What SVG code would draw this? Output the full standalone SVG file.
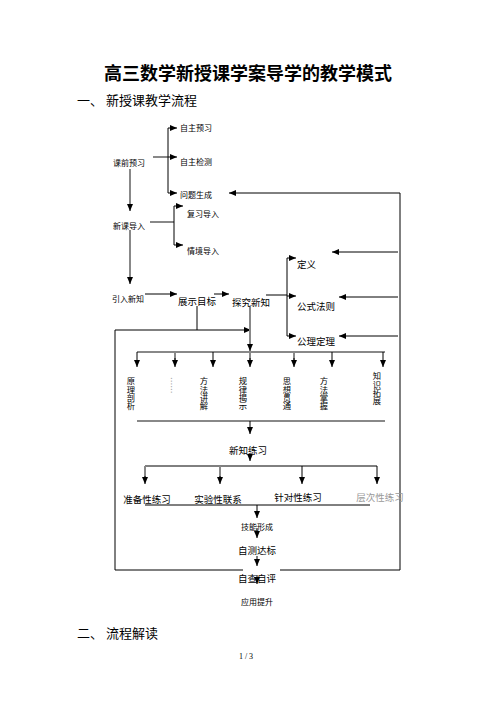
<svg xmlns="http://www.w3.org/2000/svg" width="496" height="702" viewBox="0 0 496 702">
<style>
text{font-family:"Noto Sans CJK SC","Noto Sans",sans-serif;fill:#000}
.t{font-size:9.5px}
.s{font-size:8px}
.c{text-anchor:middle}
.v{font-size:8.3px;writing-mode:vertical-rl;text-orientation:upright}
.k{stroke:#000;stroke-width:1;fill:none}
.g{stroke:#888;stroke-width:2;fill:none}
.a{marker-end:url(#ar)}
</style>
<defs>
<marker id="ar" markerUnits="userSpaceOnUse" markerWidth="7" markerHeight="6" refX="7" refY="3" orient="auto">
<path d="M0,0 L7,3 L0,6 z" fill="#000"/>
</marker>
</defs>
<rect width="496" height="702" fill="#fff"/>
<text x="248" y="80" class="c" style="font-size:18px;font-weight:bold">高三数学新授课学案导学的教学模式</text>
<text x="77" y="105" style="font-size:13px">一、 新授课教学流程</text>
<text x="77" y="638" style="font-size:13px">二、 流程解读</text>
<text x="246" y="659" class="c" style="font-family:'Liberation Serif',serif;font-size:8px">1 / 3</text>

<g id="connectors">
<path class="g" d="M153,157 H168"/>
<path class="k" d="M168,128 V193"/>
<path class="k a" d="M168,128 H177"/>
<path class="k a" d="M168,157 H177"/>
<path class="k a" d="M168,193 H177"/>
<path class="g" d="M130,169 V206"/>
<path class="k a" d="M130,204 V211"/>
<path class="g" d="M130,230 V279"/>
<path class="k a" d="M130,277 V284"/>
<path class="g" d="M150,222 H174"/>
<path class="k" d="M174,206 V245"/>
<path class="k a" d="M174,206 H183"/>
<path class="k a" d="M174,245 H183"/>
<path class="k a" d="M145,294 H177"/>
<path class="k a" d="M214,294 H229"/>
<path class="k" d="M266,295 H287"/>
<path class="k" d="M287,258 V336"/>
<path class="k a" d="M287,258 H296"/>
<path class="k a" d="M287,296 H296"/>
<path class="k a" d="M287,336 H296"/>
<path class="k" d="M400,193 V570"/>
<path class="k a" d="M400,193 H229"/>
<path class="k a" d="M398,252 H332"/>
<path class="k a" d="M398,297 H339"/>
<path class="k a" d="M398,336 H339"/>
<path class="k" d="M197,306 V330"/>
<path class="k a" d="M115,330 H251"/>
<path class="k" d="M115,330 V570 H243 M280,570 H400"/>
<path class="g" d="M250,307 V346"/>
<path class="k a" d="M250,344 V351"/>
<path class="g" d="M137,352 H385"/>
<path class="k a" d="M137,352 V367"/>
<path class="g" d="M175,352 V360"/><path class="k a" d="M175,358 V367"/>
<path class="k a" d="M213,352 V367"/>
<path class="g" d="M250,352 V360"/><path class="k a" d="M250,358 V367"/>
<path class="g" d="M294,352 V360"/><path class="k a" d="M294,358 V367"/>
<path class="k a" d="M332,352 V367"/>
<path class="k a" d="M383,352 V367"/>
<path class="g" d="M137,421 H385"/>
<path class="k a" d="M250,421 V434"/>
<path class="k a" d="M250,454 V461"/>
<path class="k" d="M145,466 H377"/>
<path class="g" d="M145,466 V478"/><path class="k a" d="M145,476 V484"/>
<path class="g" d="M220,466 V478"/><path class="k a" d="M220,476 V484"/>
<path class="k a" d="M302,466 V484"/>
<path class="k a" d="M377,466 V484"/>
<path class="k" d="M145,505 H370"/>
<path class="k a" d="M257,505 V518"/>
<path class="k a" d="M257,528 V538"/>
<path class="k a" d="M257,556 V566"/>
<path class="k a" d="M257,575 V584"/>
</g>

<g id="n-kqyx"><text x="113" y="166" class="s">课前预习</text></g>
<g id="n-zzyx"><text x="180" y="131" class="s">自主预习</text></g>
<g id="n-zzjc"><text x="180" y="165" class="s">自主检测</text></g>
<g id="n-wtsc"><text x="180" y="198" class="s">问题生成</text></g>
<g id="n-xkdr"><text x="113" y="229" class="s">新课导入</text></g>
<g id="n-fxdr"><text x="187" y="217" class="s">复习导入</text></g>
<g id="n-qjdr"><text x="187" y="254" class="s">情境导入</text></g>
<g id="n-yrxz"><text x="112" y="302" class="s">引入新知</text></g>
<g id="n-zsmb"><text x="178" y="305" class="t">展示目标</text></g>
<g id="n-tjxz"><text x="232" y="306" class="t">探究新知</text></g>
<g id="n-dy"><text x="297" y="268" class="t">定义</text></g>
<g id="n-gsfz"><text x="297" y="310" class="t">公式法则</text></g>
<g id="n-gldl"><text x="297" y="345" class="t">公理定理</text></g>
<g id="n-v1"><text x="131" y="377" class="v">原理剖析</text></g>
<g id="n-v2"><text x="172" y="377" class="v" style="fill:#aaa;text-orientation:mixed">……</text></g>
<g id="n-v3"><text x="204" y="377" class="v">方法讲解</text></g>
<g id="n-v4"><text x="243" y="377" class="v">规律揭示</text></g>
<g id="n-v5"><text x="287" y="377" class="v">思想贯通</text></g>
<g id="n-v6"><text x="324" y="377" class="v">方法掌握</text></g>
<g id="n-v7"><text x="377" y="372" class="v">知识拓展</text></g>
<g id="n-xzlx"><text x="248" y="454" class="t c">新知练习</text></g>
<g id="n-zbx"><text x="147" y="503" class="t c">准备性练习</text></g>
<g id="n-syx"><text x="218" y="503" class="t c">实验性联系</text></g>
<g id="n-zdx"><text x="298" y="501" class="t c">针对性练习</text></g>
<g id="n-ccx"><text x="380" y="501" class="t c" style="fill:#999">层次性练习</text></g>
<g id="n-jnxc"><text x="257" y="530" class="s c">技能形成</text></g>
<g id="n-zcdb"><text x="257" y="554" class="t c">自测达标</text></g>
<g id="n-zczp"><text x="257" y="582" class="t c">自查自评</text></g>
<g id="n-yyts"><text x="257" y="605" class="s c">应用提升</text></g>
</svg>
